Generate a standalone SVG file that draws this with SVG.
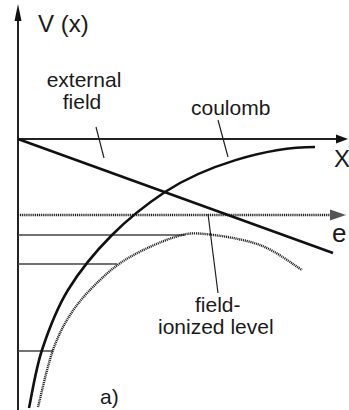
<svg xmlns="http://www.w3.org/2000/svg" width="349" height="410" viewBox="0 0 349 410">
<style>
text{font-family:"Liberation Sans",Arial,sans-serif;fill:#1a1a1a}
.t{font-size:21px}
.ax{stroke:#222;stroke-width:2;fill:none}
.thick{stroke:#111;stroke-width:2.6;fill:none}
.lvl{stroke:#444;stroke-width:1.4;fill:none}
.dot{stroke:#222;stroke-width:2.4;stroke-dasharray:1.1 0.8;fill:none}
.lead{stroke:#222;stroke-width:1.2;fill:none}
</style>
<g id="connectors">
<line class="ax" x1="18" y1="410" x2="18" y2="18"/>
<polygon points="18,4 14.5,21 21.5,21" fill="#111"/>
<line class="ax" x1="18" y1="139" x2="338" y2="139"/>
<polygon points="348,139 336,134.5 336,143.5" fill="#111"/>
<line class="dot" x1="18" y1="215" x2="331" y2="215"/>
<polygon points="346,215 330,209.5 330,220.5" fill="#555"/>
<line class="lvl" x1="18" y1="235" x2="185" y2="235"/>
<line class="lvl" x1="18" y1="264" x2="117" y2="264"/>
<line class="lvl" x1="18" y1="351" x2="53" y2="351"/>
<line class="thick" x1="18" y1="139" x2="333" y2="253"/>
<path class="thick" d="M29,408 C31.2,398.3 35.5,369.7 42,350 C48.5,330.3 56.3,309.2 68,290 C79.7,270.8 95.8,251.3 112,235 C128.2,218.7 145.7,204.8 165,192 C203,167 265,147 315,147"/>
<path class="dot" d="M38,407 C40.5,397.5 47.3,365.8 53,350 C58.7,334.2 64.2,323.7 72,312 C79.8,300.3 90.3,289.2 100,280 C109.7,270.8 117.5,264.2 130,257 C142.5,249.8 162.5,240.8 175,237 C187.5,233.2 190.8,232.7 205,234 C219.2,235.3 243.8,239 260,245 C276.2,251 295,265.8 302,270"/>
<line class="lead" x1="96" y1="127" x2="104" y2="158"/>
<line class="lead" x1="218" y1="120" x2="228" y2="157"/>
<line class="lead" x1="208" y1="214" x2="218" y2="293"/>
</g>
<g id="label-V"><text x="38" y="32" font-size="24">V (x)</text></g>
<g id="label-X"><text x="334" y="167" font-size="24">X</text></g>
<g id="label-e"><text x="332" y="242" font-size="26">e</text></g>
<g id="label-external"><text class="t" x="84" y="87" text-anchor="middle">external</text><text class="t" x="82" y="109" text-anchor="middle">field</text></g>
<g id="label-coulomb"><text class="t" x="191" y="115">coulomb</text></g>
<g id="label-fil"><text class="t" x="195" y="312">field-</text><text class="t" x="158" y="334">ionized level</text></g>
<g id="label-a"><text class="t" x="100" y="404">a)</text></g>
</svg>
